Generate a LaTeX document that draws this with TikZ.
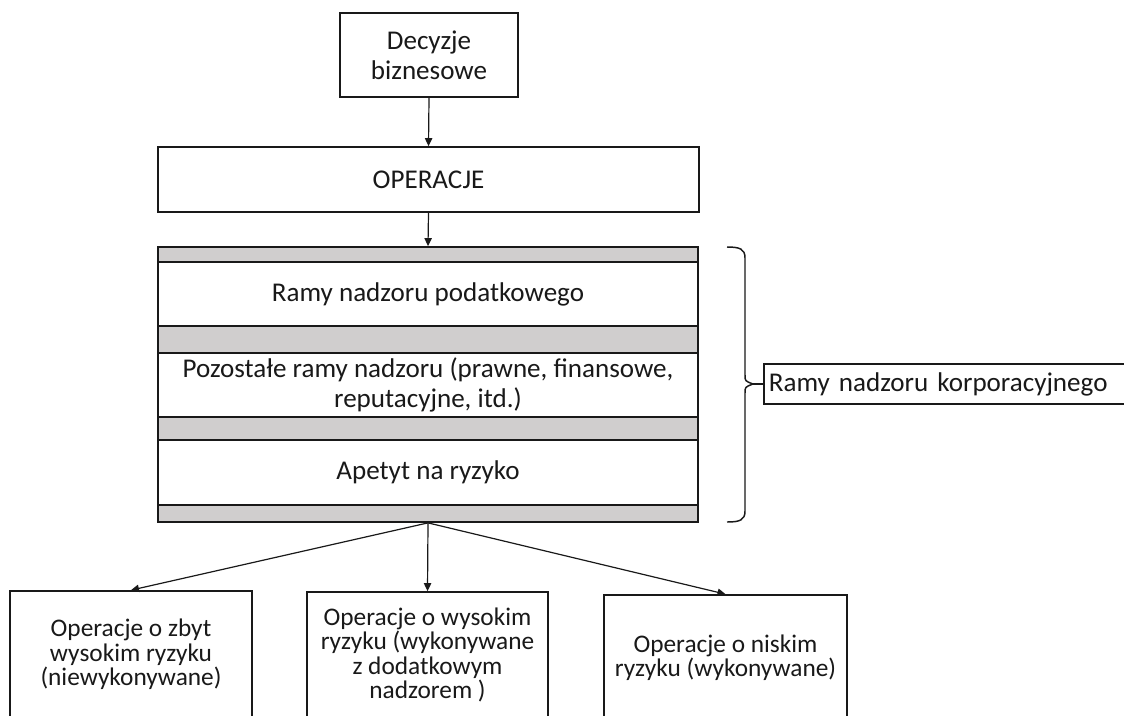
\documentclass[tikz,border=0pt]{standalone}
\usepackage{fontspec}
\setmainfont{Carlito}
\usetikzlibrary{arrows.meta}
\definecolor{bandgrey}{RGB}{208,206,206}
\definecolor{ink}{RGB}{25,25,25}
\tikzset{
  box/.style={draw=ink, line width=1.3pt, fill=white, text=ink, align=center, inner sep=0pt,
    font=\fontsize{20.3}{22.5}\selectfont},
  lowbox/.style={box, font=\fontsize{19}{18.3}\selectfont},
  band/.style={draw=ink, line width=1.3pt, fill=bandgrey, inner sep=0pt},
  conn/.style={draw=ink, line width=0.9pt, -{Triangle[length=6pt,width=5.5pt]}},
  bracestyle/.style={draw=ink, line width=1.1pt}
}
\begin{document}
\begin{tikzpicture}[x=0.75pt, y=-0.75pt]
\useasboundingbox (0,0) rectangle (1124,715);
% top boxes
\node[box, minimum width=133.5pt, minimum height=63pt] (dec) at (429,55) {Decyzje\\biznesowe};
\node[box, minimum width=405.75pt, minimum height=48.75pt] (ops) at (428.5,179.5) {OPERACJE};
% stacked frame
\node[band, minimum width=405pt, minimum height=206.25pt] (stack) at (428,384.5) {};
\node[box, minimum width=405pt, minimum height=48pt] (r1) at (428,294) {Ramy nadzoru podatkowego};
\node[box, minimum width=405pt, minimum height=48pt] (r2) at (428,385) {Pozostałe ramy nadzoru (prawne, finansowe,\\reputacyjne, itd.)};
\node[box, minimum width=405pt, minimum height=48.75pt] (r3) at (428,472.5) {Apetyt na ryzyko};
% brace
\coordinate (btop) at (727,247);
\coordinate (bbot) at (727,522);
\coordinate (tip) at (753,384);
\draw[bracestyle] (btop) .. controls (740,247) and (745,249) .. (745,258) -- (745,375)
  .. controls (745,381) .. (tip) .. controls (745,387) .. (745,393) -- (745,511)
  .. controls (745,520) and (740,522) .. (bbot);
\node[box, anchor=west, minimum height=30pt, text width=264pt, align=left, inner xsep=3.75pt] (corp) at (763,384) {Ramy nadzoru korporacyjnego};
\draw[bracestyle] (tip) -- (corp.west);
% bottom boxes
\node[lowbox, minimum width=181.5pt, minimum height=95.25pt] (b1) at (131,654.5) {Operacje o zbyt\\wysokim ryzyku\\(niewykonywane)};
\node[lowbox, minimum width=180.75pt, minimum height=94.5pt] (b2) at (427.5,655) {Operacje o wysokim\\ryzyku (wykonywane\\z dodatkowym\\nadzorem )};
\node[lowbox, minimum width=182.25pt, minimum height=93.75pt] (b3) at (725.5,657.5) {Operacje o niskim\\ryzyku (wykonywane)};
% connectors
\draw[conn] (dec.south) -- (ops.north);
\draw[conn] (ops.south) -- (stack.north);
\draw[conn] (stack.south) -- (b1.north);
\draw[conn] (stack.south) -- (b2.north);
\draw[conn] (stack.south) -- (b3.north);
\end{tikzpicture}
\end{document}
